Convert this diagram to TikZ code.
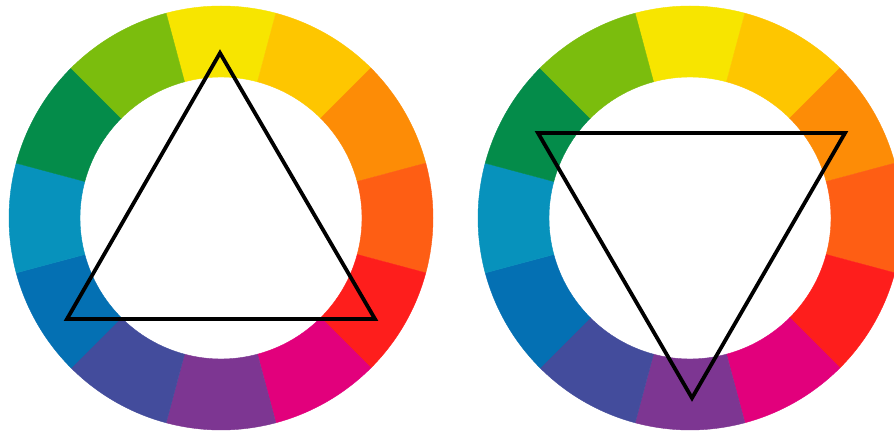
\documentclass[tikz,border=0pt]{standalone}
\usetikzlibrary{calc}
\definecolor{cY}{HTML}{F7E500}
\definecolor{cYO}{HTML}{FEC600}
\definecolor{cO}{HTML}{FD8C06}
\definecolor{cRO}{HTML}{FE5E14}
\definecolor{cR}{HTML}{FE1E1C}
\definecolor{cM}{HTML}{E2007C}
\definecolor{cP}{HTML}{7D3692}
\definecolor{cV}{HTML}{434C9C}
\definecolor{cB}{HTML}{0470B3}
\definecolor{cC}{HTML}{0792BC}
\definecolor{cG}{HTML}{048C4A}
\definecolor{cYG}{HTML}{7BBD0D}
\tikzset{
  tri/.style={draw=black, line width=3.8pt, line join=miter},
}
\newcommand{\mywheel}[1]{%
  \begin{scope}[shift={#1}]
    \foreach \k/\col in {0/cY,1/cYO,2/cO,3/cRO,4/cR,5/cM,6/cP,7/cV,8/cB,9/cC,10/cG,11/cYG}{
      \pgfmathsetmacro{\aa}{90-30*\k+15}
      \pgfmathsetmacro{\ab}{90-30*\k-15}
      \fill[\col, draw=\col, line width=0.4pt] (\aa:212pt) arc[start angle=\aa, end angle=\ab, radius=212pt]
        -- (\ab:141pt) arc[start angle=\ab, end angle=\aa, radius=141pt] -- cycle;
    }
  \end{scope}
}
\begin{document}
\begin{tikzpicture}[x=1pt,y=1pt]
  \fill[white] (0,0) rectangle (894,434);
  \useasboundingbox (0,0) rectangle (894,434);
  \clip (0,0) rectangle (894,434);
  \mywheel{(221,216)}
  \mywheel{(690,216)}
  % left triangle
  \coordinate (LA) at (220,381);
  \coordinate (LB) at (67,115);
  \coordinate (LC) at (375,115);
  \draw[tri] (LA) -- (LB) -- (LC) -- cycle;
  % right triangle
  \coordinate (RA) at (538,301);
  \coordinate (RB) at (845,301);
  \coordinate (RC) at (692,36);
  \draw[tri] (RA) -- (RB) -- (RC) -- cycle;
\end{tikzpicture}
\end{document}
